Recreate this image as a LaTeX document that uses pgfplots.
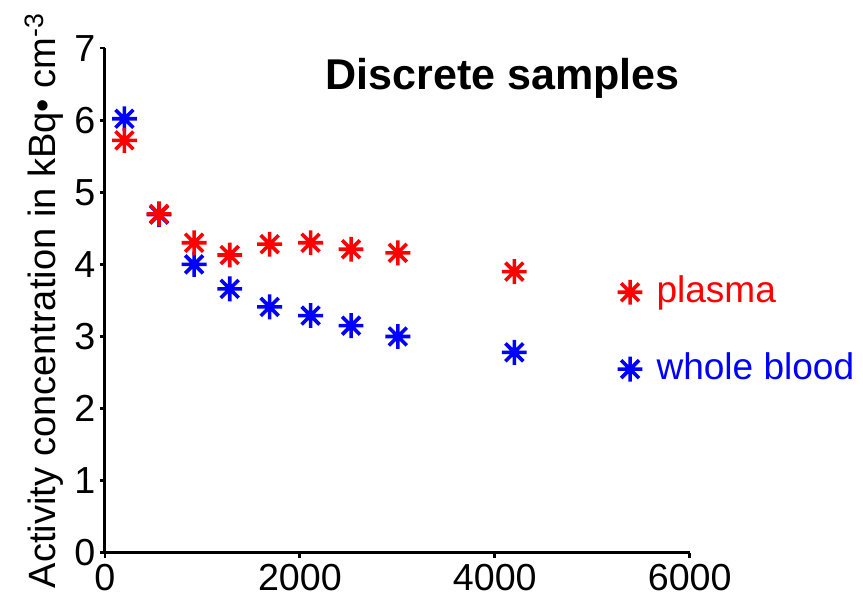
\documentclass[border=0pt]{standalone}
\usepackage{fontspec}
\setmainfont{Liberation Sans}
\usepackage{pgfplots}
\pgfplotsset{compat=1.18}

% 8-spoke asterisk like the reference
\pgfdeclareplotmark{star8}{%
  \pgfpathmoveto{\pgfpoint{0pt}{\pgfplotmarksize}}%
  \pgfpathlineto{\pgfpoint{0pt}{-\pgfplotmarksize}}%
  \pgfpathmoveto{\pgfpoint{\pgfplotmarksize}{0pt}}%
  \pgfpathlineto{\pgfpoint{-\pgfplotmarksize}{0pt}}%
  \pgfpathmoveto{\pgfpoint{0.72\pgfplotmarksize}{0.72\pgfplotmarksize}}%
  \pgfpathlineto{\pgfpoint{-0.72\pgfplotmarksize}{-0.72\pgfplotmarksize}}%
  \pgfpathmoveto{\pgfpoint{-0.72\pgfplotmarksize}{0.72\pgfplotmarksize}}%
  \pgfpathlineto{\pgfpoint{0.72\pgfplotmarksize}{-0.72\pgfplotmarksize}}%
  \pgfusepathqstroke}

\definecolor{plasmared}{RGB}{255,0,0}
\definecolor{bloodblue}{RGB}{0,0,255}

\begin{document}
\begin{tikzpicture}
\fontsize{20}{24}\selectfont
\begin{axis}[
  width=292pt, height=252pt, scale only axis,
  xmin=0, xmax=6000, ymin=0, ymax=7,
  axis lines=left,
  axis line style={-, line width=1.5pt},
  xtick={0,2000,4000,6000},
  ytick={0,1,...,7},
  tick align=outside,
  major tick length=2.6pt,
  tick style={line width=1.4pt, black},
  scaled x ticks=false,
  /pgf/number format/1000 sep={},
  /pgf/number format/assume math mode=true,
  ticklabel style={font=\fontsize{18.8}{22}\selectfont},
  yticklabel style={inner xsep=2pt},
  xticklabel style={inner ysep=3pt},
  ylabel={Activity concentration in kBq• cm\textsuperscript{-3}},
  ylabel style={font=\fontsize{19}{22}\selectfont, inner sep=0pt,
    at={(axis description cs:-0.07,0.5)}, anchor=south},
  clip=false,
  reverse legend,
  legend style={draw=none, fill=none, font=\fontsize{18.5}{22}\selectfont,
    at={(rel axis cs:0.876,0.44)}, anchor=west,
    row sep=18pt, inner sep=0pt, nodes={inner xsep=7pt}},
  legend cell align=left,
]
\addplot[only marks, mark=star8, mark size=6.2pt, line width=1.8pt, color=bloodblue]
  coordinates {
    (200,6.02) (555,4.69) (915,4.00) (1280,3.66) (1690,3.41)
    (2110,3.29) (2525,3.15) (3005,3.00) (4200,2.78)};
\addlegendentry{\textcolor{bloodblue}{whole blood}}
\addplot[only marks, mark=star8, mark size=6.2pt, line width=1.8pt, color=plasmared]
  coordinates {
    (200,5.72) (555,4.70) (915,4.30) (1280,4.13) (1690,4.28)
    (2110,4.30) (2525,4.21) (3005,4.16) (4200,3.90)};
\addlegendentry{\textcolor{plasmared}{plasma}}
\node[font=\bfseries\fontsize{21.5}{24}\selectfont] at (axis cs:4080,6.58) {Discrete samples};
\coordinate (O) at (rel axis cs:0,0);
\end{axis}
% page size in the reference's proportions
\pgfresetboundingbox
\path (O) ++(-52.4pt,-24pt) rectangle ++(430.9pt,300pt);
\end{tikzpicture}
\end{document}
